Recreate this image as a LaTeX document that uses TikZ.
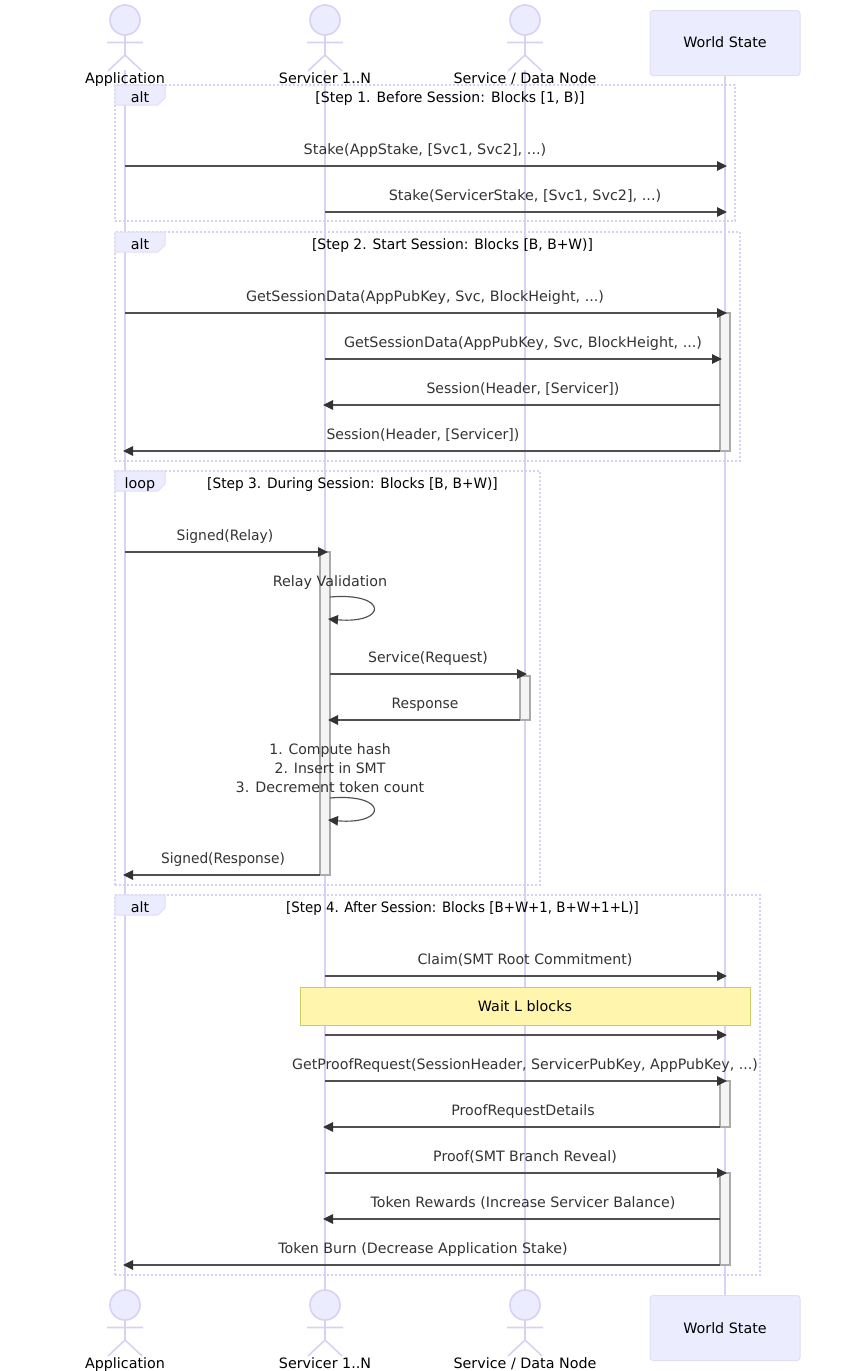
\documentclass[tikz,border=0pt]{standalone}
\usepackage{fontspec}
\setmainfont{DejaVu Sans}
\usetikzlibrary{arrows.meta}
\definecolor{lifecol}{HTML}{D9D1F3}
\definecolor{boxfill}{HTML}{ECECFF}
\definecolor{boxline}{HTML}{E2DCF5}
\definecolor{msgcol}{HTML}{333333}
\definecolor{msgstem}{HTML}{505050}
\definecolor{msgtext}{HTML}{333333}
\definecolor{notefill}{HTML}{FFF5AD}
\definecolor{noteline}{HTML}{CCCC66}
\definecolor{actfill}{HTML}{F4F4F4}
\definecolor{actline}{HTML}{ABABAB}
\tikzset{
  x=1pt, y=-1pt,
  every node/.style={inner sep=0pt, outer sep=0pt, font=\fontsize{14.3}{19}\selectfont},
  lifeline/.style={draw=lifecol, line width=1.5pt},
  stickman/.style={draw=lifecol, line width=1.6pt},
  worldbox/.style={draw=boxline, fill=boxfill, line width=1pt, rounded corners=3pt},
  framebox/.style={draw=lifecol, line width=1.5pt, dash pattern=on 2pt off 2pt},
  tagbox/.style={fill=boxfill, draw=boxline, line width=1pt},
  barbox/.style={draw=actline, fill=actfill, line width=1.5pt},
  msg/.style={draw=msgstem, line width=1.15pt, -{Triangle[length=10pt,width=9.5pt,color=msgcol]}},
  msgplain/.style={text=msgtext, anchor=base},
  heading/.style={text=black, anchor=base},
  wait/.style={draw=noteline, fill=notefill, line width=1pt},
}
% Horizontal fit of a text line; #1 factor, #2 text
\newcommand{\sx}[2]{\scalebox{#1}[1]{#2}}
% Stick figure with its caption; #1 name, #2 x, #3 head centre y, #4 caption
\newcommand{\stick}[4]{
  \node[stickman, circle, fill=boxfill, minimum size=30pt] (#1head) at (#2,#3) {};
  \coordinate (#1neck) at (#2,#3+15);
  \coordinate (#1hip) at (#2,#3+35);
  \coordinate (#1armL) at (#2-18,#3+22.5);
  \coordinate (#1armR) at (#2+18,#3+22.5);
  \coordinate (#1legL) at (#2-17,#3+51);
  \coordinate (#1legR) at (#2+17,#3+51);
  \draw[stickman] (#1neck) -- (#1hip) (#1armL) -- (#1armR) (#1legL) -- (#1hip) -- (#1legR);
  \node[heading] (#1cap) at (#2,#3+63) {#4};
}
% Arrow with a label; #1 name, #2 x from, #3 x to, #4 y, #5 label x, #6 text
\newcommand{\arrowmsg}[6]{
  \coordinate (#1a) at (#2,#4);
  \coordinate (#1b) at (#3,#4);
  \draw[msg] (#1a) -- (#1b);
  \node[msgplain] (#1t) at (#5,#4-11.4) {#6};
}
% Dotted frame with tag and title; #1 name, #2 right x, #3 top y, #4 bottom y, #5 tag, #6 title x, #7 title
\newcommand{\blockframe}[7]{
  \node[framebox, rectangle, minimum width=#2pt-115pt, minimum height=#4pt-#3pt, anchor=north west] (#1) at (115,#3) {};
  \draw[tagbox] (115,#3) -- (165,#3) -- (165,#3+13) -- (158,#3+20) -- (115,#3+20) -- cycle;
  \node[heading] (#1tag) at (140,#3+17) {#5};
  \node[heading] (#1title) at (#6,#3+17) {#7};
}
% Activation bar on a lifeline; #1 name, #2 centre x, #3 top, #4 bottom
\newcommand{\activebar}[4]{\node[barbox, rectangle, minimum width=10pt, minimum height=#4pt-#3pt, anchor=north] (#1) at (#2,#3) {};}
\begin{document}
\begin{tikzpicture}
\useasboundingbox (0,0) rectangle (850,1371);
% lifelines
\coordinate (appT) at (125,70); \coordinate (appB) at (125,1290);
\coordinate (srvT) at (325,70); \coordinate (srvB) at (325,1290);
\coordinate (dataT) at (525,70); \coordinate (dataB) at (525,1290);
\coordinate (wsT) at (725,70); \coordinate (wsB) at (725,1296);
\draw[lifeline] (appT) -- (appB);
\draw[lifeline] (srvT) -- (srvB);
\draw[lifeline] (dataT) -- (dataB);
\draw[lifeline] (wsT) -- (wsB);
% participants, top row
\stick{appA}{125}{20}{Application}
\stick{srvA}{325}{20}{Servicer 1..N}
\stick{dataA}{525}{20}{Service / Data Node}
\node[worldbox, minimum width=150pt, minimum height=65pt, anchor=north west] (wsA) at (650,10.5) {};
\node[heading] (wsAt) at (725,47.5) {World State};
% participants, bottom row
\stick{appZ}{125}{1305}{Application}
\stick{srvZ}{325}{1305}{Servicer 1..N}
\stick{dataZ}{525}{1305}{Service / Data Node}
\node[worldbox, minimum width=150pt, minimum height=65pt, anchor=north west] (wsZ) at (650,1295.5) {};
\node[heading] (wsZt) at (725,1333) {World State};
% frames
\blockframe{stepA}{735}{85}{221}{alt}{450}{\sx{.98}{[Step 1. Before Session: Blocks [1, B)]}}
\blockframe{stepB}{740}{232}{461}{alt}{452.5}{\sx{.97}{[Step 2. Start Session: Blocks [B, B+W)]}}
\blockframe{stepC}{540}{471}{885}{loop}{352.5}{\sx{.96}{[Step 3. During Session: Blocks [B, B+W)]}}
\blockframe{stepD}{760}{895}{1275}{alt}{462.5}{\sx{.935}{[Step 4. After Session: Blocks [B+W+1, B+W+1+L)]}}
% activation bars
\activebar{barA}{725}{313}{451}
\activebar{barB}{325}{552}{875}
\activebar{barC}{525}{676}{720}
\activebar{barD}{725}{1081}{1127}
\activebar{barE}{725}{1173}{1265}
% step 1
\arrowmsg{ma}{125}{727}{166}{425}{\sx{1.01}{Stake(AppStake, [Svc1, Svc2], ...)}}
\arrowmsg{mb}{325}{727}{212}{525}{\sx{1.005}{Stake(ServicerStake, [Svc1, Svc2], ...)}}
% step 2
\arrowmsg{mc}{125}{727}{313}{425}{GetSessionData(AppPubKey, Svc, BlockHeight, ...)}
\arrowmsg{md}{325}{722}{359}{523}{GetSessionData(AppPubKey, Svc, BlockHeight, ...)}
\arrowmsg{me}{720}{323}{405}{523}{\sx{.98}{Session(Header, [Servicer])}}
\arrowmsg{mf}{720}{123}{451}{423}{\sx{.98}{Session(Header, [Servicer])}}
% step 3
\arrowmsg{mg}{125}{328}{552}{225}{\sx{.97}{Signed(Relay)}}
\node[msgplain] (selfAt) at (330,586.6) {Relay Validation};
\coordinate (selfAa) at (330,597); \coordinate (selfAb) at (328,619);
\draw[msg] (selfAa) .. controls (388,592) and (388,624) .. (selfAb);
\arrowmsg{mh}{330}{527}{674}{428}{\sx{.98}{Service(Request)}}
\arrowmsg{mi}{520}{328}{720}{425}{\sx{.97}{Response}}
\node[msgplain] (selfBl) at (330,754.6) {\sx{.98}{1. Compute hash}};
\node[msgplain] (selfBm) at (330,773.6) {\sx{.98}{2. Insert in SMT}};
\node[msgplain] (selfBn) at (330,792.6) {3. Decrement token count};
\coordinate (selfBa) at (330,798); \coordinate (selfBb) at (328,820);
\draw[msg] (selfBa) .. controls (388,793) and (388,825) .. (selfBb);
\arrowmsg{mj}{320}{123}{875}{223}{\sx{.96}{Signed(Response)}}
% step 4
\arrowmsg{mk}{325}{727}{976}{525}{\sx{.99}{Claim(SMT Root Commitment)}}
\node[wait, rectangle, minimum width=450pt, minimum height=38pt] (waitnote) at (525,1006) {};
\node[heading] (waitt) at (525,1011) {Wait L blocks};
\coordinate (mla) at (325,1035); \coordinate (mlb) at (727,1035);
\draw[msg] (mla) -- (mlb);
\arrowmsg{mm}{325}{727}{1081}{525}{\sx{.99}{GetProofRequest(SessionHeader, ServicerPubKey, AppPubKey, ...)}}
\arrowmsg{mn}{720}{323}{1127}{523}{\sx{.995}{ProofRequestDetails}}
\arrowmsg{mo}{325}{727}{1173}{525}{\sx{.99}{Proof(SMT Branch Reveal)}}
\arrowmsg{mp}{720}{323}{1219}{523}{\sx{.993}{Token Rewards (Increase Servicer Balance)}}
\arrowmsg{mq}{720}{123}{1265}{423}{\sx{.995}{Token Burn (Decrease Application Stake)}}
\end{tikzpicture}
\end{document}
